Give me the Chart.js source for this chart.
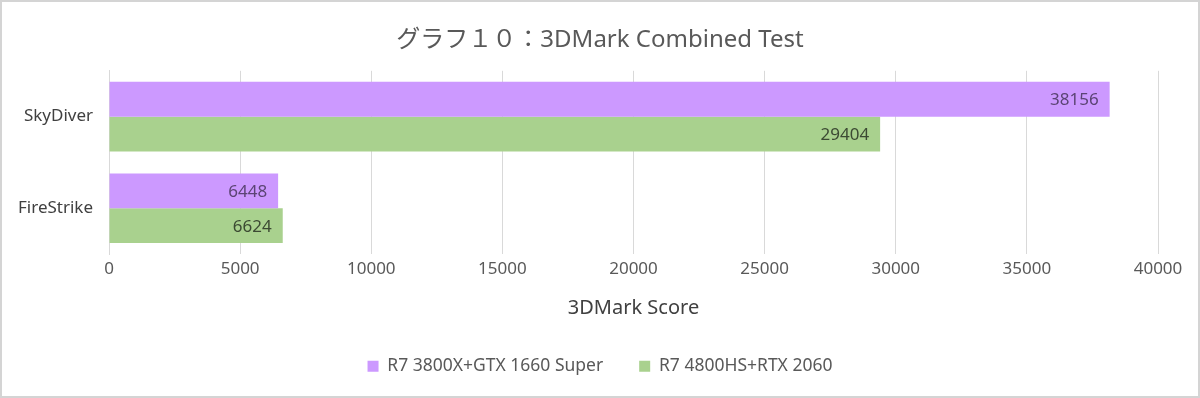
<!DOCTYPE html>
<html lang="ja">
<head>
  <meta charset="UTF-8">
  <title>グラフ１０：3DMark Combined Test</title>
  <script src="https://cdn.jsdelivr.net/npm/chart.js"></script>
  <style>
    html, body { margin: 0; padding: 0; background: #fff; }
    .frame { width: 1200px; height: 398px; box-sizing: border-box; border: 2px solid #d4d4d4; position: relative; }
    .frame canvas { display: block; }
  </style>
</head>
<body>
  <div class="frame"><canvas id="chart" width="1196" height="394"></canvas></div>

  <script>
    // chart data
    const categories = ['SkyDiver', 'FireStrike'];
    const seriesNames = ['R7 3800X+GTX 1660 Super', 'R7 4800HS+RTX 2060'];
    const scores3800X = [38156, 6448];
    const scores4800HS = [29404, 6624];

    const FONT = "'Noto Sans', 'Noto Sans CJK JP', sans-serif";

    // draws the value inside the end of each bar
    const barLabels = {
      id: 'barLabels',
      afterDatasetsDraw(chart) {
        const ctx = chart.ctx;
        ctx.save();
        ctx.font = '17px ' + FONT;
        ctx.textAlign = 'right';
        ctx.textBaseline = 'middle';
        chart.data.datasets.forEach((ds, i) => {
          const meta = chart.getDatasetMeta(i);
          meta.data.forEach((bar, j) => {
            ctx.fillStyle = ds.labelColor;
            ctx.fillText(String(ds.data[j]), bar.x - 11, bar.y + 1);
          });
        });
        ctx.restore();
      }
    };

    // title and legend are centred on the whole picture, not on the padded box
    const recentre = {
      id: 'recentre',
      afterLayout(chart) {
        [chart.titleBlock, chart.legend].forEach(b => {
          if (!b) return;
          b.left += 16;
          b.right += 16;
        });
      }
    };

    new Chart('chart', {
      type: 'bar',
      data: {
        labels: categories,
        datasets: [
          { label: seriesNames[0], data: scores3800X, backgroundColor: '#cc99ff', labelColor: '#5b4474' },
          { label: seriesNames[1], data: scores4800HS, backgroundColor: '#a9d18e', labelColor: '#3c4a33' }
        ]
      },
      options: {
        indexAxis: 'y',
        responsive: false,
        animation: false,
        devicePixelRatio: 1,
        categoryPercentage: 0.76,
        barPercentage: 1,
        layout: { padding: { left: 8, right: 40, top: 0, bottom: 11 } },
        scales: {
          x: {
            min: 0, max: 40000,
            ticks: {
              stepSize: 5000, color: '#595959', font: { family: FONT, size: 17 }, padding: 5,
              maxRotation: 0,
              callback: v => String(v)
            },
            grid: { color: '#d9d9d9', lineWidth: 1, drawTicks: false },
            border: { display: false },
            title: { display: true, text: '3DMark Score', color: '#404040', font: { family: FONT, size: 20 }, padding: { top: 12, bottom: 1 } }
          },
          y: {
            ticks: { color: '#404040', font: { family: FONT, size: 17 }, padding: 8 },
            grid: { display: false },
            border: { display: true, color: '#d9d9d9' }
          }
        },
        plugins: {
          title: {
            display: true,
            text: 'グラフ１０：3DMark Combined Test',
            color: '#595959',
            font: { family: FONT, size: 24, weight: 'normal' },
            padding: { top: 24, bottom: 16 }
          },
          legend: {
            position: 'bottom',
            labels: {
              color: '#595959',
              font: { family: FONT, size: 17.5 },
              boxWidth: 11, boxHeight: 11,
              padding: 36
            }
          },
          tooltip: { enabled: false }
        }
      },
      plugins: [barLabels, recentre]
    });
  </script>
</body>
</html>
